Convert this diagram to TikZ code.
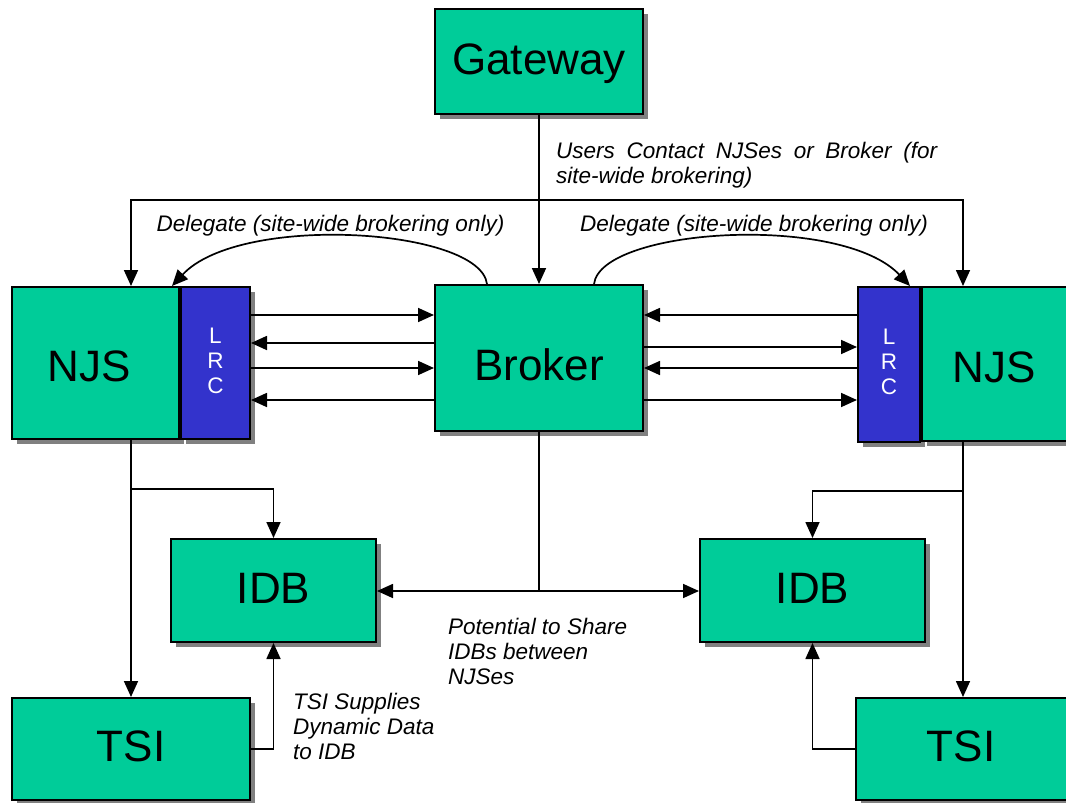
\documentclass[tikz,border=0pt]{standalone}
\usepackage{fontspec}
\setmainfont{Liberation Sans}
\usetikzlibrary{arrows.meta,shadows}

\definecolor{boxgreen}{RGB}{0,204,153}
\definecolor{lrcblue}{RGB}{51,51,204}
\definecolor{shadowgray}{RGB}{128,128,128}

\tikzset{
  box/.style={draw=black, line width=2pt, fill=boxgreen, inner sep=0pt,
    font=\fontsize{44}{48}\selectfont, text depth=0pt, text height=25.5pt,
    general shadow={fill=shadowgray, shadow xshift=5pt, shadow yshift=-5pt}},
  lrcbox/.style={draw=black, line width=2pt, fill=lrcblue, inner sep=0pt,
    text=white, font=\fontsize{22.5}{25}\selectfont,
    general shadow={fill=shadowgray, shadow xshift=5pt, shadow yshift=-5pt}},
  note/.style={inner sep=0pt, font=\itshape\fontsize{22.5}{25}\selectfont},
  arr/.style={line width=1.7pt, -{Triangle[length=16pt,width=14pt]}},
  wire/.style={line width=1.7pt},
}

\begin{document}
\begin{tikzpicture}[x=1pt, y=-1pt]
\useasboundingbox (0,0) rectangle (1066,803);
\clip (0,0) rectangle (1066,803);

% --- boxes ---
\node[box, minimum width=208pt, minimum height=105pt] (gw) at (539,61.5) {Gateway};
\node[box, minimum width=208pt, minimum height=146pt, text height=45.5pt] (broker) at (539,358) {Broker};

\node[box, minimum width=167pt, minimum height=152pt, text height=37.5pt] (njsL) at (95.5,363) {\hspace*{-13pt}NJS};
\node[lrcbox, minimum width=69pt, minimum height=152pt] (lrcL) at (215.5,363)
  {\raisebox{5pt}{\begin{tabular}{@{}c@{}}L\\R\\C\end{tabular}}};

\node[lrcbox, minimum width=62pt, minimum height=155pt] (lrcR) at (889,364.5)
  {\raisebox{5pt}{\begin{tabular}{@{}c@{}}L\\R\\C\end{tabular}}};
\node[box, minimum width=152pt, minimum height=154pt, text height=37.5pt] (njsR) at (998,364) {\hspace*{-8pt}NJS};

\node[box, minimum width=205pt, minimum height=103pt] (idbL) at (273.5,590.5) {IDB};
\node[box, minimum width=225pt, minimum height=103pt] (idbR) at (812.5,590.5) {IDB};

\node[box, minimum width=238pt, minimum height=102pt] (tsiL) at (131,749) {TSI};
\node[box, minimum width=218pt, minimum height=102pt] (tsiR) at (965,749) {\hspace*{-8pt}TSI};

% --- gateway fan-out ---
\coordinate (usrM) at (539,200);
\coordinate (usrL) at (131,200);
\coordinate (usrR) at (963,200);
\draw[arr] (gw.south) -- (broker.north);
\draw[arr] (usrM) -| (njsL.north -| usrL);
\draw[arr] (usrM) -| (njsR.north -| usrR);

% --- delegation curves ---
\draw[arr] (broker.north -| 487,0) .. controls (480,228) and (240,213) .. (njsL.north -| 172,0);
\draw[arr] (broker.north -| 594,0) .. controls (601,228) and (841,213) .. (lrcR.north -| 910,0);

% --- LRC <-> Broker traffic ---
\draw[arr] (lrcL.east |- 0,315) -- (broker.west |- 0,315);
\draw[arr] (broker.west |- 0,343) -- (lrcL.east |- 0,343);
\draw[arr] (lrcL.east |- 0,368) -- (broker.west |- 0,368);
\draw[arr] (broker.west |- 0,400) -- (lrcL.east |- 0,400);

\draw[arr] (lrcR.west |- 0,315) -- (broker.east |- 0,315);
\draw[arr] (broker.east |- 0,347) -- (lrcR.west |- 0,347);
\draw[arr] (lrcR.west |- 0,368) -- (broker.east |- 0,368);
\draw[arr] (broker.east |- 0,400) -- (lrcR.west |- 0,400);

% --- NJS to TSI and IDB ---
\draw[arr] (njsL.south -| tsiL.north) -- (tsiL.north);
\draw[arr] (tsiL.north |- 0,489) -| (idbL.north);
\draw[arr] (tsiL.east) -| (idbL.south);

\draw[arr] (njsR.south -| usrR) -- (tsiR.north -| usrR);
\draw[arr] (usrR |- 0,491) -| (idbR.north);
\draw[arr] (tsiR.west) -| (idbR.south);

% --- shared IDB link from the broker ---
\coordinate (share) at (539,591);
\draw[wire] (broker.south) -- (share);
\draw[arr] (share) -- (idbL.east |- share);
\draw[arr] (share) -- (idbR.west |- share);

% --- annotations ---
\node[note, anchor=base west] (usrtxt) at (556,158)
  {\parbox[t]{381pt}{Users Contact NJSes or Broker (for\linebreak site-wide brokering)}};
\node[note, anchor=base] (dlgL) at (330.5,231) {Delegate (site-wide brokering only)};
\node[note, anchor=base] (dlgR) at (754,231) {Delegate (site-wide brokering only)};
\node[note, anchor=base west] (sharetxt) at (448,634)
  {\parbox[t]{200pt}{Potential to Share\\IDBs between\\NJSes}};
\node[note, anchor=base west] (tsitxt) at (293,709)
  {\parbox[t]{200pt}{TSI Supplies\\Dynamic Data\\to IDB}};
\end{tikzpicture}
\end{document}
